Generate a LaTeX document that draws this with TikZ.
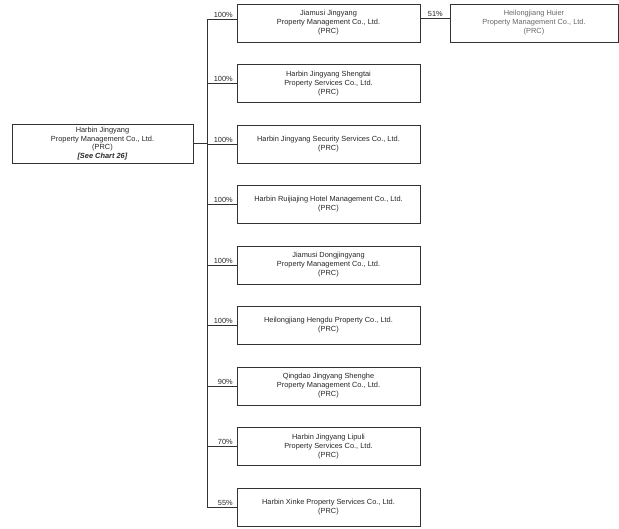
\documentclass[tikz,border=0pt]{standalone}
\usepackage{fontspec}
\setmainfont{Liberation Sans}
\begin{document}
\begin{tikzpicture}[x=1pt,y=-1pt,
  box/.style={draw=black!80,line width=0.8pt,rectangle,align=center,minimum width=183pt,minimum height=38pt,inner sep=1pt,font=\fontsize{7.4}{9}\selectfont,text=black!85},
  link/.style={draw=black!80,line width=0.6pt},
  pct/.style={anchor=south east,inner sep=1pt,font=\fontsize{7.4}{8}\selectfont,text=black!85}]
\useasboundingbox (0,0) rectangle (619,529);
\node[box,minimum width=181pt,minimum height=39pt,font=\fontsize{7.4}{8.7}\selectfont] (p) at (102.5,143.5) {Harbin Jingyang\\Property Management Co., Ltd.\\(PRC)\\\textbf{\textit{[See Chart 26]}}};
\node[box] (c1) at (328.5,23) {Jiamusi Jingyang\\Property Management Co., Ltd.\\(PRC)};
\node[box] (c2) at (328.5,83.5) {Harbin Jingyang Shengtai\\Property Services Co., Ltd.\\(PRC)};
\node[box] (c3) at (328.5,144) {Harbin Jingyang Security Services Co., Ltd.\\(PRC)};
\node[box] (c4) at (328.5,204.5) {Harbin Ruijiajing Hotel Management Co., Ltd.\\(PRC)};
\node[box] (c5) at (328.5,265) {Jiamusi Dongjingyang\\Property Management Co., Ltd.\\(PRC)};
\node[box] (c6) at (328.5,325.5) {Heilongjiang Hengdu Property Co., Ltd.\\(PRC)};
\node[box] (c7) at (328.5,386) {Qingdao Jingyang Shenghe\\Property Management Co., Ltd.\\(PRC)};
\node[box] (c8) at (328.5,446.5) {Harbin Jingyang Lipuli\\Property Services Co., Ltd.\\(PRC)};
\node[box] (c9) at (328.5,507) {Harbin Xinke Property Services Co., Ltd.\\(PRC)};
\node[box,minimum width=168pt,text=black!60] (h) at (534,23) {Heilongjiang Huier\\Property Management Co., Ltd.\\(PRC)};
% trunk coordinates
\coordinate (t1) at (207,19);
\coordinate (t2) at (207,83.5);
\coordinate (t3) at (207,144);
\coordinate (t4) at (207,204.5);
\coordinate (t5) at (207,265);
\coordinate (t6) at (207,325.5);
\coordinate (t7) at (207,386);
\coordinate (t8) at (207,446.5);
\coordinate (t9) at (207,507);
\draw[link] (t1) -- (t9);
\draw[link] (p.east) -- (p.east -| t3);
\draw[link] (t1) -- (t1 -| c1.west);
\foreach \i in {2,...,9}{\draw[link] (t\i) -- (c\i.west);}
\coordinate (r1) at (c1.east |- 0,18);
\draw[link] (r1) -- (r1 -| h.west);
\node[pct] at (234,18.5) {100\%};
\node[pct] at (234,83) {100\%};
\node[pct] at (234,143.5) {100\%};
\node[pct] at (234,204) {100\%};
\node[pct] at (234,264.5) {100\%};
\node[pct] at (234,325) {100\%};
\node[pct] at (234,385.5) {90\%};
\node[pct] at (234,446) {70\%};
\node[pct] at (234,506.5) {55\%};
\node[pct] at (444,17.5) {51\%};
\end{tikzpicture}
\end{document}
